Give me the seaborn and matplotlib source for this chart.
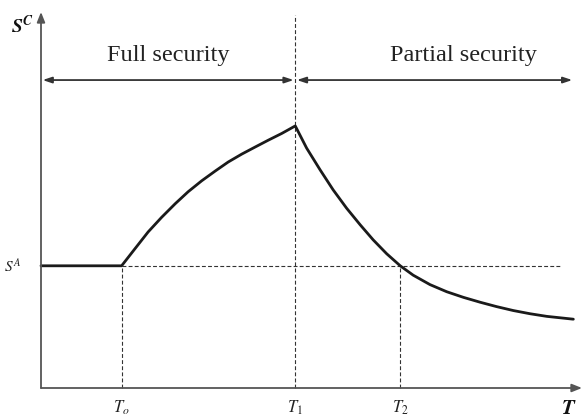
import matplotlib
matplotlib.use('Agg')
import matplotlib.pyplot as plt
import seaborn as sns
import pandas as pd

sns.set_theme(style="white")
plt.rcParams['font.family'] = ['Liberation Serif', 'DejaVu Serif']
plt.rcParams['mathtext.fontset'] = 'stix'

# key times on the T axis and the level S^A
t0, t1, t2 = 1.49, 4.70, 6.64
s_a = 3.25

# curve S^C(T)
curve_t = [0.0, 1.49, 1.74, 1.98, 2.23, 2.48, 2.72, 2.97, 3.22, 3.46,
           3.71, 3.96, 4.20, 4.45, 4.70,
           4.91, 5.16, 5.40, 5.65, 5.90, 6.14, 6.39, 6.64,
           6.88, 7.19, 7.50, 7.81, 8.12, 8.42, 8.73, 9.04, 9.35, 9.84]
curve_s = [3.25, 3.25, 3.71, 4.15, 4.54, 4.90, 5.22, 5.51, 5.77, 6.01,
           6.22, 6.41, 6.59, 6.77, 6.97,
           6.38, 5.80, 5.27, 4.78, 4.34, 3.94, 3.57, 3.25,
           3.00, 2.75, 2.56, 2.41, 2.28, 2.165, 2.06, 1.975, 1.905, 1.83]

region_labels = ["Full security", "Partial security"]
region_span = [(0.0, t1), (t1, 9.85)]
arrow_y = 8.19
x_end, y_end = 10.0, 10.0

df = pd.DataFrame({"T": curve_t, "S": curve_s})

fig = plt.figure(figsize=(5.82, 4.2), dpi=100)
ax = fig.add_axes([0, 0, 1, 1])

sns.lineplot(data=df, x="T", y="S", sort=False, color="#1a1a1a",
             linewidth=2.0, ax=ax, zorder=3)

# axes with arrow heads
axis_col = "#555555"
ax.annotate("", xy=(x_end, 0), xytext=(0, 0),
            arrowprops=dict(arrowstyle="-|>,head_length=0.5,head_width=0.2",
                            color=axis_col, lw=1.3, shrinkA=0, shrinkB=0))
ax.annotate("", xy=(0, y_end), xytext=(0, 0),
            arrowprops=dict(arrowstyle="-|>,head_length=0.5,head_width=0.2",
                            color=axis_col, lw=1.3, shrinkA=0, shrinkB=0))

# dashed guide lines
dash = dict(color="#333333", lw=0.8, ls=(0, (3.5, 2)), zorder=2)
ax.plot([t0, t0], [0, s_a], **dash)
ax.plot([t2, t2], [0, s_a], **dash)
ax.plot([t1, t1], [0, 9.92], **dash)
ax.plot([t0, 9.62], [s_a, s_a], **dash)

# region arrows and their labels
for lab, (a, b) in zip(region_labels, region_span):
    ax.annotate("", xy=(b - 0.03, arrow_y), xytext=(a + 0.03, arrow_y),
                arrowprops=dict(arrowstyle="<|-|>,head_length=0.45,head_width=0.15",
                                color="#333333", lw=1.3, shrinkA=0, shrinkB=0))
ax.text(2.35, 8.83, region_labels[0], ha="center", va="center",
        fontsize=17.5, color="#222222")
ax.text(7.80, 8.83, region_labels[1], ha="center", va="center",
        fontsize=17.5, color="#222222")

# axis labels
ax.text(-0.34, 9.62, r"$\mathbfit{S}^{\mathbfit{C}}$", ha="center", va="center",
        fontsize=14, color="#111111")
ax.text(-0.53, s_a, r"$S^{A}$", ha="center", va="center",
        fontsize=11, color="#222222")
for lab, tx in zip([r"$T_{o}$", r"$T_{1}$", r"$T_{2}$"], [t0, t1, t2]):
    ax.text(tx, -0.52, lab, ha="center", va="center", fontsize=12,
            color="#222222")
ax.text(9.75, -0.56, r"$\mathbfit{T}$", ha="center", va="center",
        fontsize=15, color="#111111")

ax.set_xlim(-41 / 54.1, 541 / 54.1)
ax.set_ylim(-32 / 37.6, 388 / 37.6)
ax.axis("off")

fig.savefig("out.png", dpi=100, facecolor="white")
